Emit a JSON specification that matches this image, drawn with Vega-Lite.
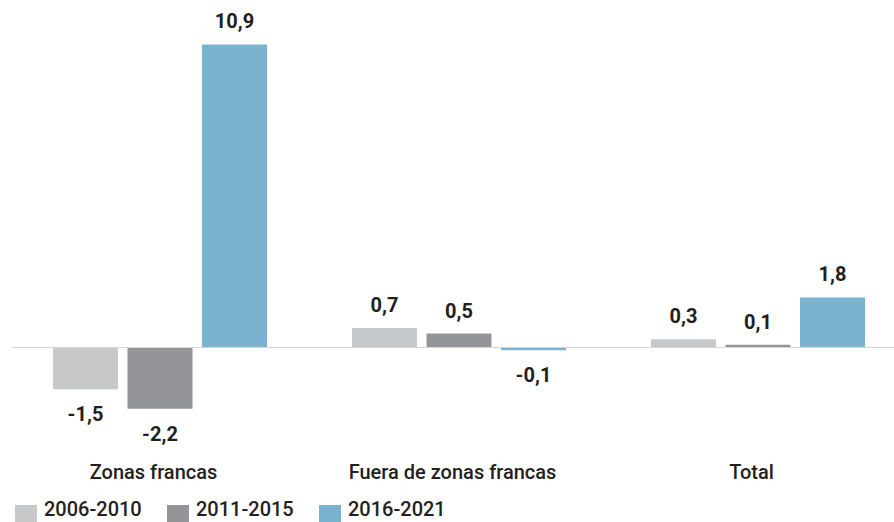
{
  "$schema": "https://vega.github.io/schema/vega-lite/v6.json",
  "autosize": {"type": "none"},
  "padding": {"left": 11, "top": 0, "right": 0, "bottom": 105},
  "width": 883,
  "height": 417,
  "data": {
    "values": [
      {"Categoria": "Zonas francas", "Periodo": "2006-2010", "Valor": -1.5},
      {"Categoria": "Zonas francas", "Periodo": "2011-2015", "Valor": -2.2},
      {"Categoria": "Zonas francas", "Periodo": "2016-2021", "Valor": 10.9},
      {"Categoria": "Fuera de zonas francas", "Periodo": "2006-2010", "Valor": 0.7},
      {"Categoria": "Fuera de zonas francas", "Periodo": "2011-2015", "Valor": 0.5},
      {"Categoria": "Fuera de zonas francas", "Periodo": "2016-2021", "Valor": -0.1},
      {"Categoria": "Total", "Periodo": "2006-2010", "Valor": 0.3},
      {"Categoria": "Total", "Periodo": "2011-2015", "Valor": 0.1},
      {"Categoria": "Total", "Periodo": "2016-2021", "Valor": 1.8}
    ]
  },
  "encoding": {
    "x": {
      "field": "Categoria",
      "type": "nominal",
      "sort": ["Zonas francas", "Fuera de zonas francas", "Total"],
      "scale": {"paddingInner": 0.0468, "paddingOuter": 0},
      "axis": {
        "title": null,
        "domain": false,
        "ticks": false,
        "tickSize": 0,
        "labelAngle": 0,
        "labelLimit": 0,
        "labelFont": "Roboto",
        "labelFontSize": 20,
        "labelFontWeight": 500,
        "labelColor": "#231f20",
        "labelPadding": 45
      }
    },
    "xOffset": {
      "field": "Periodo",
      "type": "nominal",
      "sort": ["2006-2010", "2011-2015", "2016-2021"],
      "scale": {"paddingInner": 0.1275, "paddingOuter": 0.4765, "align": 0.5915}
    },
    "y": {
      "field": "Valor",
      "type": "quantitative",
      "scale": {"domain": [-2.5, 12.5], "nice": false},
      "axis": null
    }
  },
  "layer": [
    {
      "mark": {"type": "bar", "strokeWidth": 0},
      "encoding": {
        "color": {
          "field": "Periodo",
          "type": "nominal",
          "sort": ["2006-2010", "2011-2015", "2016-2021"],
          "scale": {"range": ["#c7c8ca", "#939598", "#7ab3cf"]},
          "legend": {
            "title": null,
            "orient": "none",
            "legendX": 4,
            "legendY": 505,
            "direction": "horizontal",
            "padding": 0,
            "symbolType": "square",
            "symbolSize": 484,
            "symbolStrokeWidth": 0,
            "labelFont": "Roboto",
            "labelFontSize": 20,
            "labelFontWeight": 500,
            "labelColor": "#231f20",
            "labelBaseline": "alphabetic",
            "labelOffset": 7,
            "labelLimit": 0,
            "columnPadding": 25
          }
        }
      }
    },
    {
      "mark": {"type": "rule", "color": "#d6d6d6", "strokeWidth": 1.2},
      "encoding": {"x": null, "xOffset": null, "y": {"datum": 0}}
    },
    {
      "transform": [{"filter": "datum.Valor >= 0"}],
      "mark": {"type": "text", "font": "Roboto", "fontSize": 20, "fontWeight": "bold", "color": "#231f20", "baseline": "alphabetic", "dy": -16},
      "encoding": {"text": {"field": "Valor", "type": "quantitative", "format": ".1f"}}
    },
    {
      "transform": [{"filter": "datum.Valor < 0"}],
      "mark": {"type": "text", "font": "Roboto", "fontSize": 20, "fontWeight": "bold", "color": "#231f20", "baseline": "alphabetic", "dy": 32},
      "encoding": {"text": {"field": "Valor", "type": "quantitative", "format": ".1f"}}
    }
  ],
  "config": {
    "view": {"stroke": null},
    "locale": {
      "number": {"decimal": ",", "thousands": ".", "grouping": [3], "currency": ["", " €"], "minus": "-"}
    }
  }
}
